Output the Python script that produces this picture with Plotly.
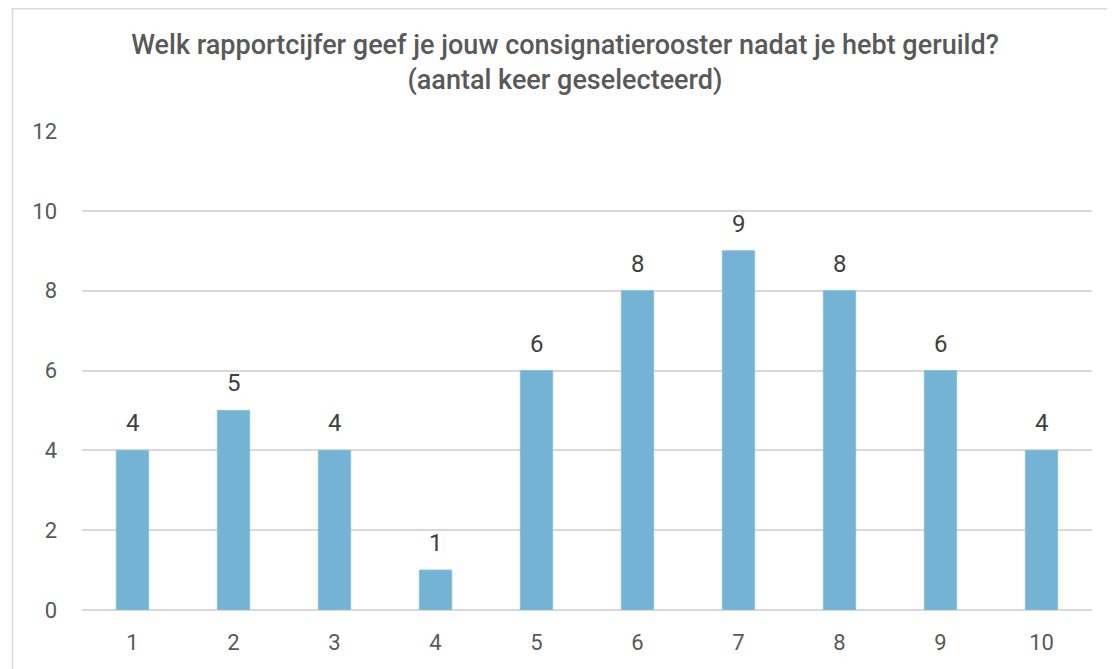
import plotly.graph_objects as go

categories = ["1", "2", "3", "4", "5", "6", "7", "8", "9", "10"]
counts = [4, 5, 4, 1, 6, 8, 9, 8, 6, 4]
y_ticks = [0, 2, 4, 6, 8, 10, 12]

title_text = "Welk rapportcijfer geef je jouw consignatierooster nadat je hebt geruild?<br>(aantal keer geselecteerd)"

W, H = 1115, 669
ml, mt = 74, 123
pw, ph = 1010, 479
mr, mb = W - ml - pw, H - mt - ph

fig = go.Figure(
    go.Bar(
        x=categories,
        y=counts,
        marker=dict(color="#74b3d3", line=dict(color="#86bfdc", width=1)),
        width=0.32,
        cliponaxis=False,
    )
)

# category axis: annotation x given as category index
annotations = [
    dict(
        x=i,
        y=v,
        xref="x",
        yref="y",
        text=str(v),
        showarrow=False,
        yanchor="bottom",
        yshift=11,
        font=dict(family="Roboto", size=24, color="#404040"),
    )
    for i, v in enumerate(counts)
]

fig.update_layout(
    width=W,
    height=H,
    margin=dict(l=ml, r=mr, t=mt, b=mb),
    paper_bgcolor="white",
    plot_bgcolor="white",
    showlegend=False,
    annotations=annotations,
    title=dict(
        text=title_text,
        x=(565 - 8 - ml) / pw,
        xref="paper",
        xanchor="center",
        y=1 - 46 / H,
        yanchor="top",
        font=dict(family="Roboto", size=27, color="#595959", weight=500),
    ),
    xaxis=dict(
        type="category",
        range=[-0.5, len(categories) - 0.5],
        showgrid=False,
        showline=False,
        zeroline=False,
        ticks="",
        tickfont=dict(family="Roboto", size=22, color="#595959"),
        ticklabelstandoff=17,
    ),
    yaxis=dict(
        range=[0, 12],
        tickvals=y_ticks,
        showgrid=True,
        gridcolor="#d9d9d9",
        gridwidth=1.5,
        zeroline=True,
        zerolinecolor="#d9d9d9",
        zerolinewidth=1.5,
        showline=False,
        ticks="",
        tickfont=dict(family="Roboto", size=22, color="#595959"),
        ticklabelstandoff=24,
    ),
    shapes=[
        dict(
            type="rect",
            xref="paper",
            yref="paper",
            x0=(4.5 - ml) / pw,
            x1=(W + 10 - ml) / pw,
            y0=(mb - H - 10) / ph,
            y1=(H - 0.75 - mb) / ph,
            line=dict(color="#d9d9d9", width=1.5),
            fillcolor="rgba(0,0,0,0)",
            layer="below",
        )
    ],
)

fig.write_html("out.html")
